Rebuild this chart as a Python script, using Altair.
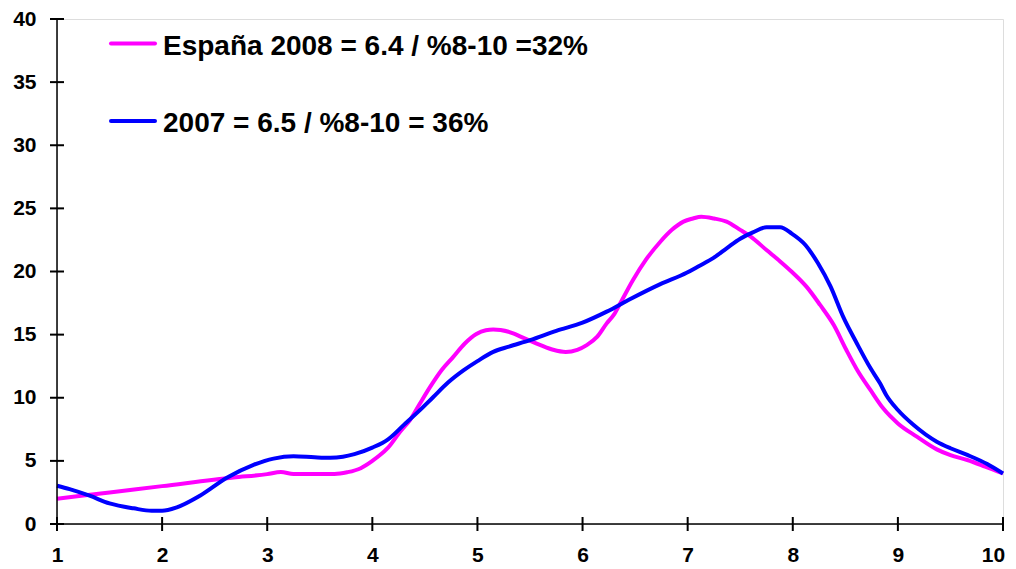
import altair as alt
import pandas as pd

# ---- data ----
series_labels = ["España 2008 = 6.4 / %8-10 =32%", "2007 = 6.5 / %8-10 = 36%"]
series_colors = ["#FF00FF", "#0000FF"]

x_2008 = [1.0, 1.5, 2.0, 2.68, 3.0, 3.13, 3.25, 3.64, 3.76, 3.89, 4.0, 4.07, 4.15, 4.27,
          4.36, 4.45, 4.55, 4.66, 4.77, 4.88, 4.99, 5.08, 5.15, 5.22, 5.34, 5.41, 5.6,
          5.72, 5.84, 5.95, 6.04, 6.14, 6.23, 6.3, 6.36, 6.48, 6.6, 6.74, 6.85, 6.96,
          7.05, 7.13, 7.25, 7.37, 7.5, 7.6, 7.75, 7.88, 7.99, 8.13, 8.26, 8.39, 8.51,
          8.62, 8.74, 8.86, 9.0, 9.18, 9.37, 9.5, 9.66, 9.83, 10.0]
y_2008 = [2.0, 2.5, 3.0, 3.68, 3.95, 4.12, 3.97, 3.97, 4.1, 4.42, 5.0, 5.44, 6.05, 7.37,
          8.25, 9.5, 10.86, 12.2, 13.24, 14.3, 15.05, 15.35, 15.41, 15.37, 15.1, 14.84,
          14.17, 13.8, 13.63, 13.8, 14.17, 14.84, 15.89, 16.6, 17.5, 19.33, 20.9, 22.36,
          23.3, 23.95, 24.2, 24.34, 24.2, 23.95, 23.3, 22.76, 21.7, 20.8, 19.98, 18.8,
          17.35, 15.76, 13.78, 12.1, 10.6, 9.16, 7.97, 6.92, 5.91, 5.45, 5.07, 4.55, 4.0]

x_2007 = [1.0, 1.12, 1.31, 1.5, 1.73, 1.9, 2.0, 2.14, 2.36, 2.62, 2.87, 3.06, 3.25, 3.45,
          3.6, 3.72, 3.83, 4.0, 4.15, 4.3, 4.45, 4.58, 4.72, 4.87, 5.0, 5.15, 5.3, 5.5,
          5.75, 6.0, 6.23, 6.45, 6.74, 6.99, 7.1, 7.25, 7.38, 7.5, 7.62, 7.75, 7.88,
          7.99, 8.12, 8.24, 8.36, 8.48, 8.61, 8.74, 8.83, 8.89, 9.0, 9.15, 9.37, 9.5,
          9.66, 9.85, 10.0]
y_2007 = [3.03, 2.76, 2.24, 1.63, 1.24, 1.05, 1.05, 1.32, 2.24, 3.68, 4.68, 5.18, 5.37,
          5.28, 5.24, 5.32, 5.53, 6.05, 6.71, 7.85, 9.0, 10.06, 11.2, 12.18, 12.9, 13.63,
          14.05, 14.56, 15.3, 15.95, 16.82, 17.8, 19.0, 19.9, 20.4, 21.1, 21.9, 22.6,
          23.1, 23.5, 23.5, 23.0, 22.1, 20.65, 18.8, 16.4, 14.3, 12.33, 11.14, 10.2,
          9.03, 7.84, 6.52, 6.0, 5.47, 4.75, 4.0]

x_ticks = [1, 2, 3, 4, 5, 6, 7, 8, 9, 10]
y_ticks = [0, 5, 10, 15, 20, 25, 30, 35, 40]

FONT = "Liberation Sans"
W, H = 946, 505

df = pd.concat([
    pd.DataFrame({"x": x_2008, "y": y_2008, "s": series_labels[0]}),
    pd.DataFrame({"x": x_2007, "y": y_2007, "s": series_labels[1]}),
])

xscale = alt.Scale(domain=[1, 10], nice=False, zero=False)
yscale = alt.Scale(domain=[0, 40], nice=False)

xaxis = alt.Axis(values=x_ticks, format="d", ticks=False, domain=False, grid=False,
                 labelPadding=20, labelFont=FONT, labelFontSize=21,
                 labelFontWeight="bold", labelColor="black", title=None,
                 labelFlush=False,
                 labelOffset={"condition": {"test": "datum.value == 10", "value": -10},
                              "value": 0})
yaxis = alt.Axis(values=y_ticks, format="d", ticks=False, domain=False, grid=False,
                 labelPadding=21, labelFont=FONT, labelFontSize=21,
                 labelFontWeight="bold", labelColor="black", title=None)

lines = alt.Chart(df).mark_line(strokeWidth=4, interpolate="monotone").encode(
    x=alt.X("x:Q", scale=xscale, axis=xaxis),
    y=alt.Y("y:Q", scale=yscale, axis=yaxis),
    color=alt.Color("s:N", scale=alt.Scale(domain=series_labels, range=series_colors),
                    legend=None),
    detail="s:N",
)

base = alt.Chart(pd.DataFrame({"a": [0]}))
yline = base.mark_rule(color="black", strokeWidth=1.5).encode(
    x=alt.XDatum(1), y=alt.YDatum(0), y2=alt.datum(40))
xline = base.mark_rule(color="black", strokeWidth=1.5).encode(
    y=alt.YDatum(0), x=alt.XDatum(1), x2=alt.datum(10))

tick_layers = []
for v in y_ticks:
    tick_layers.append(base.mark_rule(color="black", strokeWidth=2).encode(
        y=alt.YDatum(v), x=alt.value(-7), x2=alt.value(7)))
for v in x_ticks:
    tick_layers.append(base.mark_rule(color="black", strokeWidth=2).encode(
        x=alt.XDatum(v), y=alt.value(H - 7), y2=alt.value(H + 7)))

legend_layers = []
for i, (lab, col) in enumerate(zip(series_labels, series_colors)):
    ly = 24.5 + i * 77.4
    legend_layers.append(
        base.mark_rule(color=col, strokeWidth=4, strokeCap="round").encode(
            x=alt.value(54), x2=alt.value(98), y=alt.value(ly)))
    legend_layers.append(
        base.mark_text(align="left", baseline="alphabetic", font=FONT, fontSize=28,
                       fontWeight="bold", color="black").encode(
            x=alt.value(106), y=alt.value(ly + 11.5), text=alt.value(lab)))

chart = alt.layer(lines, yline, xline, *tick_layers, *legend_layers).properties(
    width=W, height=H,
    autosize=alt.AutoSizeParams(type="none"),
    padding={"left": 49, "top": 11, "right": 4, "bottom": 45},
).configure_view(stroke=None).configure(background="white")

chart.save("out.html", embed_options={"renderer": "svg", "actions": False})
